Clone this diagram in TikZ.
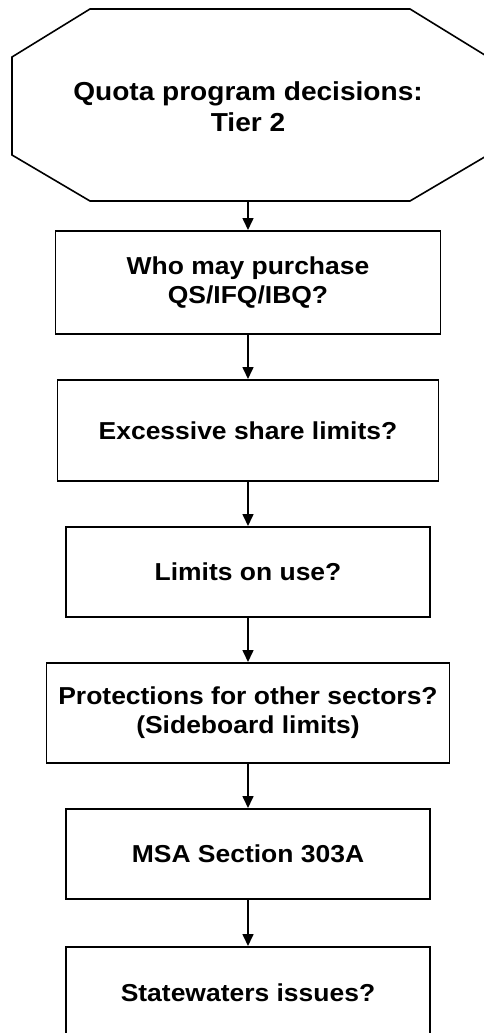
\documentclass[tikz,border=0pt]{standalone}
\usepackage{fontspec}
\setmainfont{Liberation Sans}[FakeStretch=1.08]
\usetikzlibrary{arrows.meta}
\begin{document}
\begin{tikzpicture}[x=1pt,y=-1pt,
  txt/.style={font=\bfseries\fontsize{24.5}{29}\selectfont, align=center, inner sep=0pt},
  stepbox/.style={txt, draw, line width=1.6pt, anchor=north},
  arr/.style={-{Triangle[length=12pt,width=11pt]}, line width=1.6pt}]
\useasboundingbox (0,0) rectangle (483,1033);
\draw[line width=1.6pt, line join=miter] (90,9) -- (410,9) -- (488,57) -- (488,155) -- (410,201) -- (90,201) -- (12,155) -- (12,57) -- cycle;
\node[txt, font=\bfseries\fontsize{26}{31}\selectfont] (q) at (248,107) {Quota program decisions:\\Tier 2};
\coordinate (qb) at (248,201);
\node[stepbox, minimum width=385pt, minimum height=103pt] (b1) at (248,230) {Who may purchase\\QS/IFQ/IBQ?};
\node[stepbox, minimum width=381pt, minimum height=101pt] (b2) at (248,379) {Excessive share limits?};
\node[stepbox, minimum width=364pt, minimum height=90pt] (b3) at (248,526) {Limits on use?};
\node[stepbox, minimum width=403pt, minimum height=100pt] (b4) at (248,662) {Protections for other sectors?\\(Sideboard limits)};
\node[stepbox, minimum width=364pt, minimum height=90pt] (b5) at (248,808) {MSA Section 303A};
\node[stepbox, minimum width=364pt, minimum height=92pt] (b6) at (248,946) {Statewaters issues?};
\draw[arr] (qb) -- (b1.north);
\draw[arr] (b1.south) -- (b2.north);
\draw[arr] (b2.south) -- (b3.north);
\draw[arr] (b3.south) -- (b4.north);
\draw[arr] (b4.south) -- (b5.north);
\draw[arr] (b5.south) -- (b6.north);
\end{tikzpicture}
\end{document}
